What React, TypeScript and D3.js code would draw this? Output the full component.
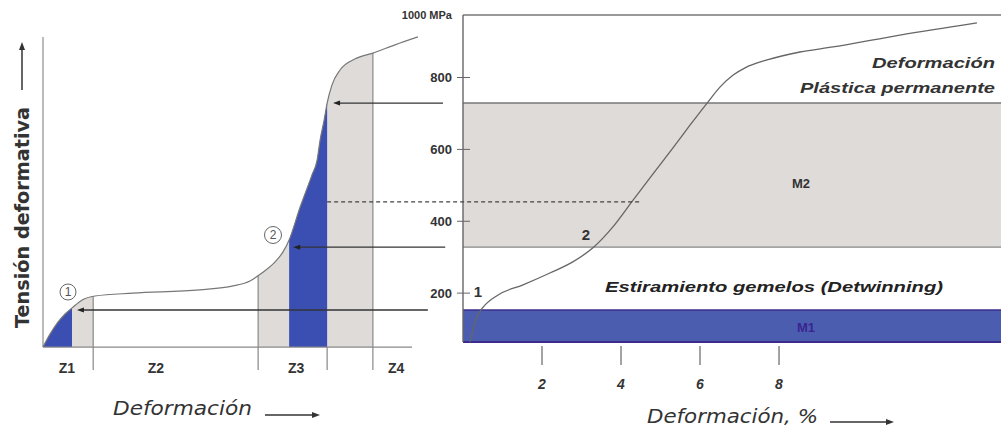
import React from 'react';
import * as d3 from 'd3';

// ---- data ----
// Left schematic curve (arbitrary strain units 0..100, stress in MPa shared with right chart)
const leftStrain = [0, 1.9, 4.1, 6.0, 7.9, 10.6, 14.1, 24.4, 42.5, 51.5, 56.1, 59.3, 62.9, 65.0, 66.7, 69.6, 72.9, 74.3, 75.1, 76.2, 77.0, 78.3, 80.5, 84.6, 89.4, 95.4, 101.6];
const leftStress = [50, 86, 120, 142, 159, 181, 192, 200, 209, 220, 234, 256, 287, 314, 348, 437, 529, 571, 626, 682, 729, 779, 821, 852, 868, 891, 913];
// Right stress-strain curve (strain %, stress MPa)
const rightStrain = [0.18, 0.35, 0.51, 0.89, 1.52, 2.2, 2.78, 3.29, 3.8, 4.3, 4.81, 5.32, 5.75, 6.18, 6.51, 6.84, 7.14, 7.7, 8.53, 9.37, 11.06, 13.01];
const rightStress = [64, 134, 161, 195, 223, 256, 287, 326, 385, 458, 532, 605, 668, 729, 774, 807, 827, 849, 871, 885, 918, 952];

const yTicks = [200, 400, 600, 800];
const yTopLabel = '1000 MPa';
const xTicks = [2, 4, 6, 8];
const zoneLabels = ['Z1', 'Z2', 'Z3', 'Z4'];
const zoneLabelPos = [6.5, 30.6, 68.6, 95.7];
const blueZones = [[0, 7.9], [66.7, 77.0]];
const grayZones = [[7.9, 13.6], [58.3, 89.4]];
const zoneLinesFromCurve = [13.6, 58.3, 89.4];
const zoneLinesFromBase = [77.0];
const m1Band = [64, 153];
const m2Band = [328, 729];
const dashedLevel = 454;
const dashedFrom = 77.0; // left units
const dashedTo = 4.48; // right strain %
const arrowLevels = [153, 328, 729];
const arrowTips = [9.2, 67.8, 78.6];
const arrowTails = [104.3, 109.0, 108.4];
const leftBase = 50;

const W = 1001;
const H = 429;

export default function App() {
  const y = d3.scaleLinear().domain([64, 974]).range([342, 15]);
  const xL = d3.scaleLinear().domain([0, 100]).range([43, 412]);
  const xR = d3.scaleLinear().domain([0, 13.67]).range([463, 1003]);

  const leftPts: [number, number][] = leftStrain.map((s, i) => [s, leftStress[i]]);
  const rightPts: [number, number][] = rightStrain.map((s, i) => [s, rightStress[i]]);

  const curveL = d3.line<[number, number]>().x(d => xL(d[0])).y(d => y(d[1])).curve(d3.curveMonotoneX);
  const areaL = d3.area<[number, number]>().x(d => xL(d[0])).y0(y(leftBase)).y1(d => y(d[1])).curve(d3.curveMonotoneX);
  const curveR = d3.line<[number, number]>().x(d => xR(d[0])).y(d => y(d[1])).curve(d3.curveMonotoneX);

  const stressAt = (x: number) => {
    const i = Math.max(1, Math.min(leftStrain.length - 1, d3.bisectLeft(leftStrain, x)));
    const t = (x - leftStrain[i - 1]) / (leftStrain[i] - leftStrain[i - 1]);
    return leftStress[i - 1] + t * (leftStress[i] - leftStress[i - 1]);
  };

  const ax0 = xR(0);
  const font = 'Liberation Sans, Arial, sans-serif';
  const wide = 'DejaVu Sans, Verdana, sans-serif';

  return (
    <svg width={W} height={H} style={{ position: 'absolute', left: 0, top: 0, background: '#fff' }} xmlns="http://www.w3.org/2000/svg">
      <defs>
        {blueZones.map((z, i) => (
          <clipPath id={`cb${i}`} key={`cb${i}`}>
            <rect x={xL(z[0])} y={0} width={xL(z[1]) - xL(z[0])} height={H} />
          </clipPath>
        ))}
        {grayZones.map((z, i) => (
          <clipPath id={`cg${i}`} key={`cg${i}`}>
            <rect x={xL(z[0])} y={0} width={xL(z[1]) - xL(z[0])} height={H} />
          </clipPath>
        ))}
      </defs>

      {/* ===== Right chart ===== */}
      <rect x={ax0} y={y(m2Band[1])} width={W - ax0} height={y(m2Band[0]) - y(m2Band[1])} fill="#dedbd9" />
      <line x1={ax0} x2={W} y1={y(m2Band[1])} y2={y(m2Band[1])} stroke="#777" strokeWidth={1.6} />
      <line x1={ax0} x2={W} y1={y(m2Band[0])} y2={y(m2Band[0])} stroke="#888" strokeWidth={1.2} />
      <rect x={ax0} y={y(m1Band[1])} width={W - ax0} height={y(m1Band[0]) - y(m1Band[1])} fill="#4a5daf" />
      <line x1={ax0} x2={W} y1={y(m1Band[1])} y2={y(m1Band[1])} stroke="#3b2c8c" strokeWidth={1.5} />
      <line x1={ax0} x2={W} y1={y(m1Band[0])} y2={y(m1Band[0])} stroke="#3b2c8c" strokeWidth={1.8} />
      <line x1={ax0} x2={W} y1={15} y2={15} stroke="#777" strokeWidth={1.6} />
      <line x1={ax0} x2={ax0} y1={15} y2={y(m1Band[0])} stroke="#666" strokeWidth={1.4} />

      {yTicks.map(t => (
        <g key={`yt${t}`}>
          <line x1={ax0 - 6} x2={ax0 + 7} y1={y(t)} y2={y(t)} stroke="#666" strokeWidth={1} />
          <text x={452} y={y(t)} dy="0.35em" textAnchor="end" fontFamily={font} fontSize={13} fontWeight="bold" fill="#333">{t}</text>
        </g>
      ))}
      <text x={452} y={15} dy="0.35em" textAnchor="end" fontFamily={font} fontSize={11} fontWeight="bold" fill="#333">{yTopLabel}</text>

      {xTicks.map(t => (
        <g key={`xt${t}`}>
          <line x1={xR(t)} x2={xR(t)} y1={346} y2={365} stroke="#666" strokeWidth={1.2} />
          <text x={xR(t)} y={384} dy="0.35em" textAnchor="middle" fontFamily={font} fontSize={14} fontWeight="bold" fontStyle="italic" fill="#333">{t}</text>
        </g>
      ))}

      <path d={curveR(rightPts) || ''} fill="none" stroke="#666" strokeWidth={1.3} />

      <text x={995} y={63} dy="0.35em" textAnchor="end" fontFamily={font} fontSize={15} fontWeight="bold" fontStyle="italic" fill="#333" textLength={123} lengthAdjust="spacingAndGlyphs">Deformación</text>
      <text x={995} y={88} dy="0.35em" textAnchor="end" fontFamily={font} fontSize={15} fontWeight="bold" fontStyle="italic" fill="#333" textLength={195} lengthAdjust="spacingAndGlyphs">Plástica permanente</text>
      <text x={801} y={183} dy="0.35em" textAnchor="middle" fontFamily={font} fontSize={13} fontWeight="bold" fill="#333">M2</text>
      <text x={605} y={287} dy="0.35em" fontFamily={font} fontSize={15} fontWeight="bold" fontStyle="italic" fill="#222" textLength={338} lengthAdjust="spacingAndGlyphs">Estiramiento gemelos (Detwinning)</text>
      <text x={806} y={327} dy="0.35em" textAnchor="middle" fontFamily={font} fontSize={13} fontWeight="bold" fill="#3a2590">M1</text>
      <text x={478} y={292} dy="0.35em" textAnchor="middle" fontFamily={font} fontSize={15} fontWeight="bold" fill="#333">1</text>
      <text x={586} y={235} dy="0.35em" textAnchor="middle" fontFamily={font} fontSize={15} fontWeight="bold" fill="#333">2</text>

      <text x={647} y={416} dy="0.35em" fontFamily={wide} fontSize={19} fontStyle="italic" fill="#333" textLength={171} lengthAdjust="spacingAndGlyphs">Deformación, %</text>
      <line x1={830} x2={889} y1={422} y2={422} stroke="#333" strokeWidth={1.5} />
      <polygon points="894,422 886,419 886,425" fill="#333" />

      {/* ===== Left chart ===== */}
      {blueZones.map((z, i) => (
        <path key={`ab${i}`} d={areaL(leftPts) || ''} fill="#3b4fb2" clipPath={`url(#cb${i})`} />
      ))}
      {grayZones.map((z, i) => (
        <path key={`ag${i}`} d={areaL(leftPts) || ''} fill="#dedbd9" clipPath={`url(#cg${i})`} />
      ))}
      {blueZones.slice(1).map((z, i) => (
        <path key={`ab2${i}`} d={areaL(leftPts) || ''} fill="#3b4fb2" clipPath={`url(#cb1)`} />
      ))}

      <line x1={xL(0)} x2={xL(0)} y1={37} y2={y(leftBase)} stroke="#aaa" strokeWidth={1.6} />
      <line x1={xL(0)} x2={412} y1={y(leftBase)} y2={y(leftBase)} stroke="#888" strokeWidth={1.2} />

      {zoneLinesFromCurve.map(v => (
        <line key={`zl${v}`} x1={xL(v)} x2={xL(v)} y1={y(stressAt(v))} y2={370} stroke="#888" strokeWidth={1.2} />
      ))}
      {zoneLinesFromBase.map(v => (
        <line key={`zb${v}`} x1={xL(v)} x2={xL(v)} y1={y(leftBase)} y2={370} stroke="#888" strokeWidth={1.2} />
      ))}

      <path d={curveL(leftPts) || ''} fill="none" stroke="#777" strokeWidth={1.2} />

      {arrowLevels.map((lv, i) => {
        const yy = y(lv);
        const tip = xL(arrowTips[i]);
        return (
          <g key={`ar${i}`}>
            <line x1={tip + 3} x2={xL(arrowTails[i])} y1={yy} y2={yy} stroke="#333" strokeWidth={1.3} />
            <polygon points={`${tip},${yy} ${tip + 7},${yy - 2.5} ${tip + 7},${yy + 2.5}`} fill="#222" />
          </g>
        );
      })}
      <line x1={xL(dashedFrom)} x2={xR(dashedTo)} y1={y(dashedLevel)} y2={y(dashedLevel)} stroke="#444" strokeWidth={1.2} strokeDasharray="4,3" />

      <circle cx={68} cy={292} r={8} fill="#fff" stroke="#666" strokeWidth={1} />
      <text x={68} y={292} dy="0.36em" textAnchor="middle" fontFamily={font} fontSize={12} fill="#555">1</text>
      <circle cx={273} cy={235} r={8.5} fill="#fff" stroke="#666" strokeWidth={1} />
      <text x={273} y={235} dy="0.36em" textAnchor="middle" fontFamily={font} fontSize={12} fill="#555">2</text>

      {zoneLabels.map((z, i) => (
        <text key={z} x={xL(zoneLabelPos[i])} y={368} dy="0.35em" textAnchor="middle" fontFamily={font} fontSize={14} fontWeight="bold" fill="#333">{z}</text>
      ))}

      <text x={113} y={408} dy="0.35em" fontFamily={wide} fontSize={19} fontStyle="italic" fill="#333" textLength={139} lengthAdjust="spacingAndGlyphs">Deformación</text>
      <line x1={265} x2={315} y1={415} y2={415} stroke="#333" strokeWidth={1.5} />
      <polygon points="320,415 312,412 312,418" fill="#333" />

      <text transform="translate(22,217.5) rotate(-90)" textAnchor="middle" dy="0.35em" fontFamily={wide} fontSize={19} fontWeight="bold" fill="#333" textLength={221} lengthAdjust="spacingAndGlyphs">Tensión deformativa</text>
      <line x1={22} x2={22} y1={90} y2={48} stroke="#333" strokeWidth={1.5} />
      <polygon points="22,42 19,50 25,50" fill="#333" />
    </svg>
  );
}
